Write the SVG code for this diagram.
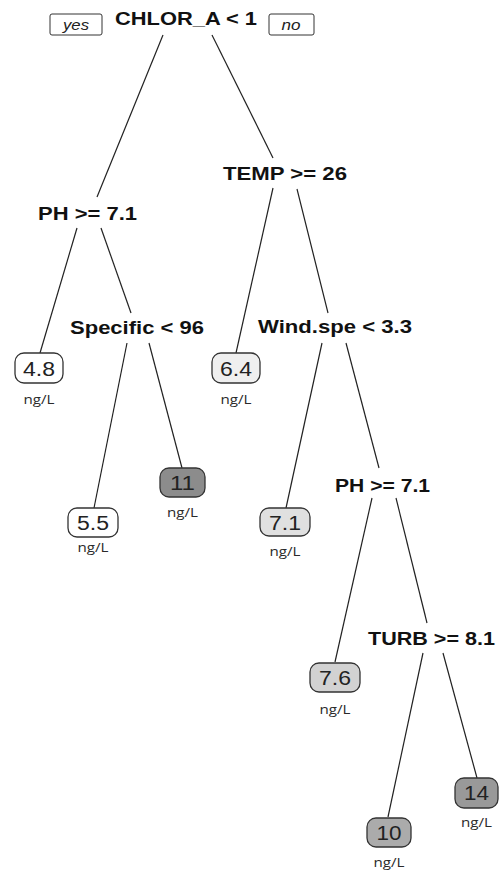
<svg xmlns="http://www.w3.org/2000/svg" width="500" height="871" viewBox="0 0 500 871">
  <style>
    .split { font-family: "Liberation Sans", Arial, sans-serif; font-weight: bold; font-size: 18px; fill: #111; text-anchor: middle; }
    .val { font-family: "Liberation Sans", Arial, sans-serif; font-size: 20px; fill: #222; text-anchor: middle; }
    .unit { font-family: "Open Sans", "Liberation Sans", sans-serif; font-size: 12.5px; fill: #2a2a2a; text-anchor: middle; }
    .lab { font-family: "Liberation Sans", Arial, sans-serif; font-style: italic; font-size: 14.5px; fill: #222; text-anchor: middle; }
    .leaf { stroke: #333; stroke-width: 1.3; }
    .tag { fill: #fff; stroke: #333; stroke-width: 1; }
    .edge { stroke: #222; stroke-width: 1.2; fill: none; }
  </style>
  <rect width="500" height="871" fill="#fff"/>

  <!-- connectors -->
  <g id="edges" class="edge">
    <line x1="163" y1="35" x2="97" y2="197"/>
    <line x1="212" y1="35" x2="273" y2="158"/>
    <line x1="77" y1="228" x2="40" y2="353"/>
    <line x1="101" y1="228" x2="131" y2="313"/>
    <line x1="127" y1="343" x2="94" y2="508"/>
    <line x1="149" y1="343" x2="182" y2="468"/>
    <line x1="273" y1="188" x2="236" y2="353"/>
    <line x1="297" y1="189" x2="328" y2="313"/>
    <line x1="322" y1="343" x2="286" y2="508"/>
    <line x1="346" y1="343" x2="379" y2="468"/>
    <line x1="372" y1="498" x2="335" y2="662"/>
    <line x1="396" y1="498" x2="427" y2="623"/>
    <line x1="423" y1="653" x2="388" y2="817"/>
    <line x1="443" y1="653" x2="477" y2="778"/>
  </g>

  <!-- root split with branch labels -->
  <g id="root">
    <text class="split" x="186" y="25" textLength="142" lengthAdjust="spacingAndGlyphs">CHLOR_A &lt; 1</text>
    <rect class="tag" x="50" y="14" width="52" height="21" rx="2"/>
    <text class="lab" x="76" y="30" textLength="26" lengthAdjust="spacingAndGlyphs">yes</text>
    <rect class="tag" x="269" y="14" width="45" height="21" rx="2"/>
    <text class="lab" x="291" y="30" textLength="19" lengthAdjust="spacingAndGlyphs">no</text>
  </g>

  <g id="ph1">
    <text class="split" x="87.5" y="220" textLength="99" lengthAdjust="spacingAndGlyphs">PH &gt;= 7.1</text>
  </g>
  <g id="specific">
    <text class="split" x="137" y="334" textLength="134" lengthAdjust="spacingAndGlyphs">Specific &lt; 96</text>
  </g>
  <g id="temp">
    <text class="split" x="285" y="180" textLength="124" lengthAdjust="spacingAndGlyphs">TEMP &gt;= 26</text>
  </g>
  <g id="wind">
    <text class="split" x="335" y="333" textLength="154" lengthAdjust="spacingAndGlyphs">Wind.spe &lt; 3.3</text>
  </g>
  <g id="ph2">
    <text class="split" x="382.5" y="492" textLength="95" lengthAdjust="spacingAndGlyphs">PH &gt;= 7.1</text>
  </g>
  <g id="turb">
    <text class="split" x="431.5" y="645" textLength="127" lengthAdjust="spacingAndGlyphs">TURB &gt;= 8.1</text>
  </g>

  <!-- leaves -->
  <g id="leaf48">
    <rect class="leaf" x="15" y="353" width="48" height="30" rx="9" fill="#ffffff"/>
    <text class="val" x="39" y="376" textLength="32" lengthAdjust="spacingAndGlyphs">4.8</text>
    <text class="unit" x="39" y="404" textLength="31" lengthAdjust="spacingAndGlyphs">ng/L</text>
  </g>
  <g id="leaf55">
    <rect class="leaf" x="68" y="508" width="50" height="29" rx="9" fill="#ffffff"/>
    <text class="val" x="93" y="530" textLength="32" lengthAdjust="spacingAndGlyphs">5.5</text>
    <text class="unit" x="93" y="552" textLength="31" lengthAdjust="spacingAndGlyphs">ng/L</text>
  </g>
  <g id="leaf11">
    <rect class="leaf" x="160" y="468" width="45" height="29" rx="9" fill="#8c8c8c"/>
    <text class="val" x="182.5" y="490" textLength="25" lengthAdjust="spacingAndGlyphs">11</text>
    <text class="unit" x="182.5" y="517" textLength="31" lengthAdjust="spacingAndGlyphs">ng/L</text>
  </g>
  <g id="leaf64">
    <rect class="leaf" x="212" y="353" width="48" height="30" rx="9" fill="#efefef"/>
    <text class="val" x="236" y="376" textLength="32" lengthAdjust="spacingAndGlyphs">6.4</text>
    <text class="unit" x="236" y="404" textLength="31" lengthAdjust="spacingAndGlyphs">ng/L</text>
  </g>
  <g id="leaf71">
    <rect class="leaf" x="260" y="508" width="50" height="28" rx="9" fill="#e0e0e0"/>
    <text class="val" x="285" y="530" textLength="32" lengthAdjust="spacingAndGlyphs">7.1</text>
    <text class="unit" x="285" y="556" textLength="31" lengthAdjust="spacingAndGlyphs">ng/L</text>
  </g>
  <g id="leaf76">
    <rect class="leaf" x="310" y="663" width="50" height="29" rx="9" fill="#d2d2d2"/>
    <text class="val" x="335" y="685" textLength="32" lengthAdjust="spacingAndGlyphs">7.6</text>
    <text class="unit" x="335" y="714" textLength="31" lengthAdjust="spacingAndGlyphs">ng/L</text>
  </g>
  <g id="leaf10">
    <rect class="leaf" x="367" y="818" width="44" height="29" rx="9" fill="#ababab"/>
    <text class="val" x="389" y="840" textLength="25" lengthAdjust="spacingAndGlyphs">10</text>
    <text class="unit" x="389" y="867" textLength="31" lengthAdjust="spacingAndGlyphs">ng/L</text>
  </g>
  <g id="leaf14">
    <rect class="leaf" x="455" y="778" width="43" height="30" rx="9" fill="#999999"/>
    <text class="val" x="476.5" y="800" textLength="25" lengthAdjust="spacingAndGlyphs">14</text>
    <text class="unit" x="476.5" y="827" textLength="31" lengthAdjust="spacingAndGlyphs">ng/L</text>
  </g>
</svg>
